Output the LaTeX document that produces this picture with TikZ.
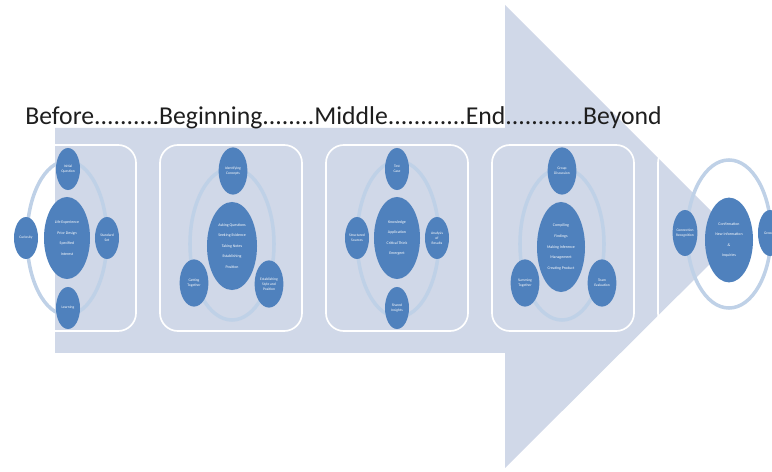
\documentclass[tikz,border=0pt]{standalone}
\usepackage{fontspec}
\setmainfont{Carlito}
\usetikzlibrary{shapes.geometric}

\definecolor{arrowgray}{HTML}{D0D8E8}
\definecolor{hubblue}{HTML}{4F81BD}
\definecolor{ringblue}{HTML}{BFD1E7}
\definecolor{titlegray}{HTML}{1E1E1E}

\begin{document}
\begin{tikzpicture}[
    x=0.025cm, y=-0.025cm,
    stage/.style={rectangle, draw=white, line width=1.2pt, rounded corners=0.45cm, minimum width=3.55cm, minimum height=4.65cm},
    ring/.style={ellipse, draw=ringblue, line width=2.5pt, inner sep=0pt},
    hub/.style={ellipse, fill=hubblue, inner sep=0pt, text=white, align=center, font=\fontsize{2.8}{7.5}\selectfont, minimum width=1.15cm, minimum height=2.05cm},
    sat/.style={ellipse, fill=hubblue, inner sep=0pt, text=white, align=center, font=\fontsize{2.6}{3.6}\selectfont, minimum width=0.6cm, minimum height=1.05cm},
    bigsat/.style={sat, minimum width=0.72cm, minimum height=1.18cm},
    title/.style={font=\fontsize{18.3}{20}\selectfont, text=titlegray, inner sep=0pt}
]
\useasboundingbox (0,0) rectangle (772,472);

% Grande fleche
\fill[arrowgray] (55,128) -- (505,128) -- (505,5) -- (737,237) -- (505,468) -- (505,353) -- (55,353) -- cycle;

% Cadres des etapes
\node[stage] (before) at (65,238) {};
\node[stage] (beginning) at (231,238) {};
\node[stage] (middle) at (397,238) {};
\node[stage] (end) at (563,238) {};
\node[stage] (beyond) at (729,238) {};

% Anneaux
\node[ring, minimum width=2cm, minimum height=3.85cm] (r1) at (67,238) {};
\node[ring, minimum width=2.1cm, minimum height=3.8cm] (r2) at (232,244) {};
\node[ring, minimum width=2.05cm, minimum height=3.9cm] (r3) at (398,239) {};
\node[ring, minimum width=2.1cm, minimum height=3.8cm] (r4) at (562,244) {};
\node[ring, minimum width=2.1cm, minimum height=3.7cm] (r5) at (729,234) {};

% Before
\node[hub] (h1) at (67,238) {Life Experience\\Prior Design\\Specified\\Interest};
\node[sat] (t1) at (68,169) {Initial\\Question};
\node[sat] (b1) at (68,308) {Learning};
\node[sat] (l1) at (26,238) {Curiosity};
\node[sat] (s1) at (107,238) {Standard\\Set};

% Beginning
\node[hub, minimum width=1.25cm, minimum height=2.2cm] (h2) at (232,246) {Asking Questions\\Seeking Evidence\\Taking Notes\\Establishing\\Position};
\node[bigsat] (t2) at (233,171) {Identifying\\Concepts};
\node[bigsat] (l2) at (194,283) {Getting\\Together};
\node[bigsat] (s2) at (269,284) {Establishing\\Style and\\Position};

% Middle
\node[hub] (h3) at (397,238) {Knowledge\\Application\\Critical Think\\Emergent};
\node[sat] (t3) at (397,169) {Test\\Case};
\node[sat] (b3) at (397,308) {Shared\\Insights};
\node[sat] (l3) at (357,238) {Structured\\Sources};
\node[sat] (s3) at (437,238) {Analysis\\of\\Results};

% End
\node[hub, minimum width=1.2cm, minimum height=2.25cm] (h4) at (561,247) {Compiling\\Findings\\Making Inference\\Management\\Creating Product};
\node[bigsat] (t4) at (562,171) {Group\\Discussion};
\node[bigsat] (l4) at (525,283) {Summing\\Together};
\node[bigsat] (s4) at (602,283) {Team\\Evaluation};

% Beyond
\node[hub, minimum width=1.2cm, minimum height=2.12cm] (h5) at (729,240) {Confirmation\\New Information\\\&\\Inquiries};
\node[sat, minimum height=1.15cm] (l5) at (685,233) {Connection\\Recognition};
\node[sat, minimum height=1.15cm, text width=0.3cm, align=left] (s5) at (770,233) {Grow};

% Titre
\node[title, anchor=base west] (steps) at (25,125) {Before..........Beginning........Middle............End............Beyond};

\end{tikzpicture}
\end{document}
